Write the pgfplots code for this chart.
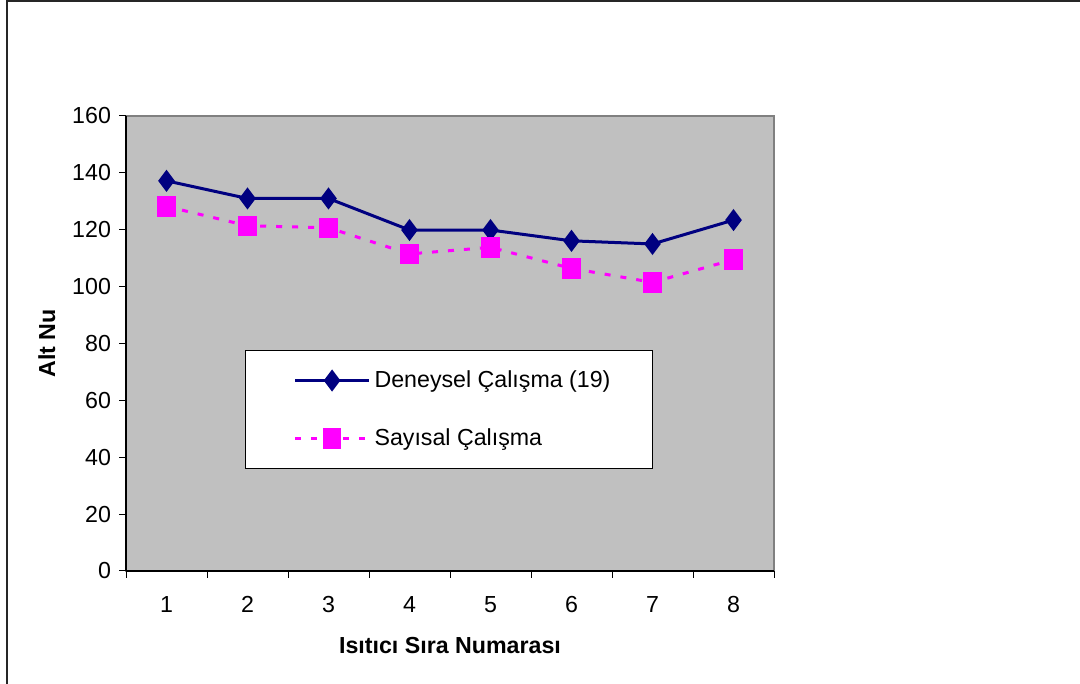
\documentclass[border=0pt]{standalone}
\usepackage{fontspec}
\setmainfont{Liberation Sans}
\usepackage{pgfplots}
\pgfplotsset{compat=1.18}
\definecolor{plotgray}{HTML}{C0C0C0}
\definecolor{navyline}{HTML}{000080}
\definecolor{magentaline}{HTML}{FF00FF}
\begin{document}
\begin{tikzpicture}[font=\fontsize{11.6}{13.9}\selectfont]
\path[use as bounding box] (0,0) rectangle (540pt,342pt);
\draw[line width=1pt, black!85] (3.5pt,-1pt) -- (3.5pt,341.3pt) -- (541pt,341.3pt);
\begin{axis}[
  at={(63pt,56.5pt)}, anchor=south west,
  scale only axis, width=324pt, height=227.5pt,
  xmin=0.5, xmax=8.5, ymin=0, ymax=160,
  ytick={0,20,...,160},
  xtick={0.5,1.5,...,8.5}, xticklabels={},
  extra x ticks={1,2,3,4,5,6,7,8},
  extra x tick labels={1,2,3,4,5,6,7,8},
  extra x tick style={major tick length=0pt, xticklabel style={yshift=-9pt}},
  axis x line=bottom, axis y line=left,
  axis line style={-, black, line width=0.6pt},
  axis background/.style={fill=plotgray, draw=gray, line width=0.8pt},
  tick align=outside, major tick length=3.5pt,
  tick style={black, line width=0.5pt},
  /pgf/number format/assume math mode=true,
  tick label style={font=\fontsize{11.6}{13.9}\selectfont},
  yticklabel style={xshift=-0.5pt},
  every axis y label/.style={at={(axis description cs:-0.122,0.5)}, rotate=90, anchor=center, font=\fontsize{11.6}{13.9}\selectfont\bfseries},
  every axis x label/.style={at={(axis description cs:0.5,-0.163)}, anchor=center, font=\fontsize{11.6}{13.9}\selectfont\bfseries},
  ylabel={Alt Nu},
  xlabel={Isıtıcı Sıra Numarası},
  legend style={at={(0.1836,0.4857)}, anchor=north west, draw=black, line width=0.6pt, fill=white, inner xsep=19pt, inner ysep=8pt, row sep=15pt, font=\fontsize{11.6}{13.9}\selectfont},
  legend cell align=left,
  legend image code/.code={\path (0pt,0pt); \draw[mark repeat=2,mark phase=2,#1] plot coordinates {(5pt,0pt) (23.5pt,0pt) (42pt,0pt)};},
]
\addplot[navyline, line width=1.5pt, mark=diamond*, mark size=4.3pt, mark options={solid}]
  coordinates {(1,137.2)(2,131.0)(3,131.0)(4,119.9)(5,119.9)(6,116.1)(7,115.0)(8,123.4)};
\addlegendentry{Deneysel Çalışma (19)}
\addplot[magentaline, line width=1.5pt, dash pattern=on 3pt off 5pt, mark=square*, mark size=3.8pt, mark options={solid, yscale=1.15}]
  coordinates {(1,128.2)(2,121.4)(3,120.7)(4,111.5)(5,113.8)(6,106.4)(7,101.5)(8,109.5)};
\addlegendentry{Sayısal Çalışma}
\end{axis}
\end{tikzpicture}
\end{document}
